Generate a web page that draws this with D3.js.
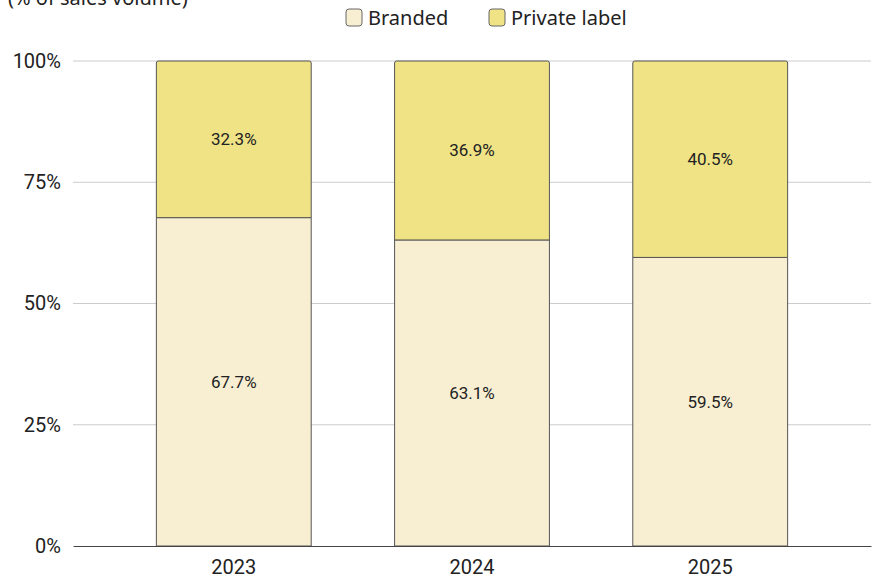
<!DOCTYPE html>
<html>
<head>
<meta charset="utf-8">
<title>Branded vs private label</title>
<style>
body { margin: 0; background: #fff; }
.tick text { font-family: Roboto, "Liberation Sans", sans-serif; fill: #222; }
</style>
</head>
<body>
<svg width="875" height="580"></svg>
<script src="https://cdnjs.cloudflare.com/ajax/libs/d3/7.8.5/d3.min.js"></script>
<script>
var years = ["2023", "2024", "2025"];
var branded = [67.7, 63.1, 59.5];
var privateLabel = [32.3, 36.9, 40.5];
var keys = ["Branded", "Private label"];
var colors = ["#f8efd3", "#efe386"];
var yTicks = [0, 25, 50, 75, 100];

var svg = d3.select("svg"),
    margin = {top: 61, right: 4, bottom: 34, left: 73},
    width = 875 - margin.left - margin.right,
    height = 580 - margin.top - margin.bottom,
    g = svg.append("g").attr("transform", "translate(" + margin.left + "," + margin.top + ")");

var data = years.map(function(y, i) {
  return {year: y, "Branded": branded[i], "Private label": privateLabel[i]};
});

var x = d3.scaleBand().domain(years).range([0, width]).paddingInner(0.35).paddingOuter(0.35);
var y = d3.scaleLinear().domain([0, 100]).range([height, 0]);
var z = d3.scaleOrdinal().domain(keys).range(colors);

// grid
g.append("g").selectAll("line")
  .data(yTicks.slice(1))
  .enter().append("line")
    .attr("x1", 0).attr("x2", width)
    .attr("y1", function(d) { return y(d); })
    .attr("y2", function(d) { return y(d); })
    .attr("stroke", "#cccccc").attr("stroke-width", 1);

// y axis labels
var yAxis = g.append("g")
  .call(d3.axisLeft(y).tickValues(yTicks).tickFormat(function(d) { return d + "%"; }).tickSize(0).tickPadding(12));
yAxis.select(".domain").remove();
yAxis.selectAll("text").attr("font-size", 20);

// stacked bars
var series = d3.stack().keys(keys)(data);

g.append("g").selectAll("g")
  .data(series)
  .enter().append("g")
    .attr("fill", function(d) { return z(d.key); })
  .selectAll("path")
  .data(function(d) { return d.map(function(v) { v.key = d.key; return v; }); })
  .enter().append("path")
    .attr("d", function(d) {
      var x0 = x(d.data.year), w = x.bandwidth(),
          y0 = y(d[1]), y1 = y(d[0]);
      if (d.key === "Private label") {
        var r = 2;
        return "M" + x0 + "," + y1 + "V" + (y0 + r) + "Q" + x0 + "," + y0 + " " + (x0 + r) + "," + y0 +
               "H" + (x0 + w - r) + "Q" + (x0 + w) + "," + y0 + " " + (x0 + w) + "," + (y0 + r) + "V" + y1 + "Z";
      }
      return "M" + x0 + "," + y1 + "V" + y0 + "H" + (x0 + w) + "V" + y1 + "Z";
    })
    .attr("stroke", "#555")
    .attr("stroke-width", 1);

// value labels
g.append("g").selectAll("g")
  .data(series)
  .enter().append("g")
  .selectAll("text")
  .data(function(d) { return d; })
  .enter().append("text")
    .attr("x", function(d) { return x(d.data.year) + x.bandwidth() / 2; })
    .attr("y", function(d) { return (y(d[0]) + y(d[1])) / 2; })
    .attr("dy", "0.35em")
    .attr("text-anchor", "middle")
    .attr("font-family", "Roboto, 'Liberation Sans', sans-serif")
    .attr("font-size", 17)
    .attr("fill", "#222")
    .text(function(d) { return (d[1] - d[0]).toFixed(1) + "%"; });

// x axis
var xAxis = g.append("g")
  .attr("transform", "translate(0," + height + ")")
  .call(d3.axisBottom(x).tickSize(0).tickPadding(14));
xAxis.select(".domain").attr("stroke", "#444").attr("stroke-width", 1.2);
xAxis.selectAll("text").attr("font-size", 20);

// title (partly cut at top, as in the source)
svg.append("text")
  .attr("x", 8).attr("y", 5)
  .attr("font-family", "'Noto Sans', 'Open Sans', sans-serif")
  .attr("font-size", 20)
  .attr("fill", "#222")
  .text("(% of sales volume)");

// legend
var legendX = [346, 489];
var legend = svg.append("g").selectAll("g")
  .data(keys)
  .enter().append("g")
    .attr("transform", function(d, i) { return "translate(" + legendX[i] + ",9)"; });

legend.append("rect")
  .attr("width", 16).attr("height", 17)
  .attr("rx", 3)
  .attr("fill", function(d) { return z(d); })
  .attr("stroke", "#666").attr("stroke-width", 1);

legend.append("text")
  .attr("x", 22).attr("y", 9)
  .attr("dy", "0.35em")
  .attr("font-family", "'Noto Sans', 'Open Sans', sans-serif")
  .attr("font-size", 20)
  .attr("fill", "#222")
  .text(function(d) { return d; });
</script>
</body>
</html>
